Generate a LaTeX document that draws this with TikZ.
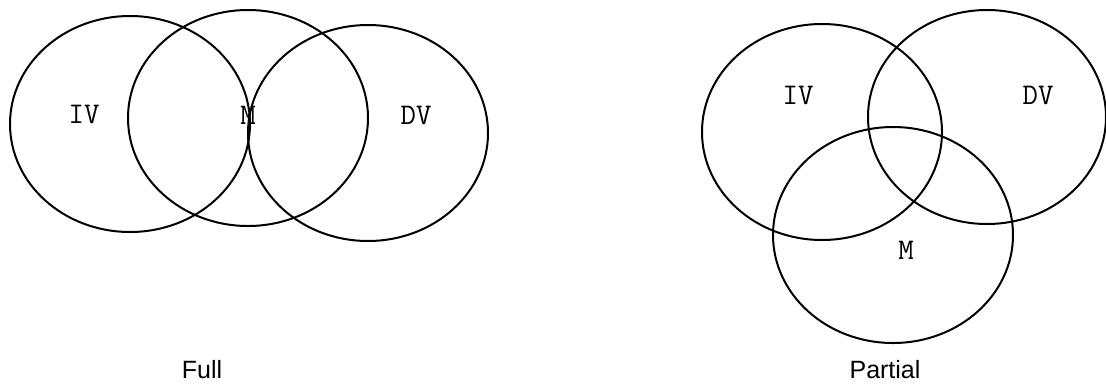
\documentclass[tikz,border=0pt]{standalone}
\usepackage{fontspec}
\setmainfont{Liberation Sans}
\begin{document}
\begin{tikzpicture}[x=1pt,y=-1pt,line width=2pt,
  every node/.style={inner sep=0pt},
  varlbl/.style={font=\ttfamily\fontsize{30}{30}\selectfont},
  caplbl/.style={font=\fontsize{25}{25}\selectfont}]
\useasboundingbox (0,0) rectangle (1106,384);
% full mediation
\draw (130,124) ellipse [x radius=120,y radius=108];
\draw (248,118) ellipse [x radius=120,y radius=108];
\draw (368,133) ellipse [x radius=120,y radius=108];
\node[varlbl] (fiv) at (84,114) {IV};
\node[varlbl] (fm) at (248,115) {M};
\node[varlbl] (fdv) at (416,115) {DV};
\node[caplbl] (full) at (202,370) {Full};
% partial mediation
\draw (822,132) ellipse [x radius=120,y radius=108];
\draw (987,117) ellipse [x radius=119,y radius=107];
\draw (893,235) ellipse [x radius=120,y radius=108];
\node[varlbl] (piv) at (798,95) {IV};
\node[varlbl] (pdv) at (1038,95) {DV};
\node[varlbl] (pm) at (906,250) {M};
\node[caplbl] (partial) at (885,370) {Partial};
\end{tikzpicture}
\end{document}
